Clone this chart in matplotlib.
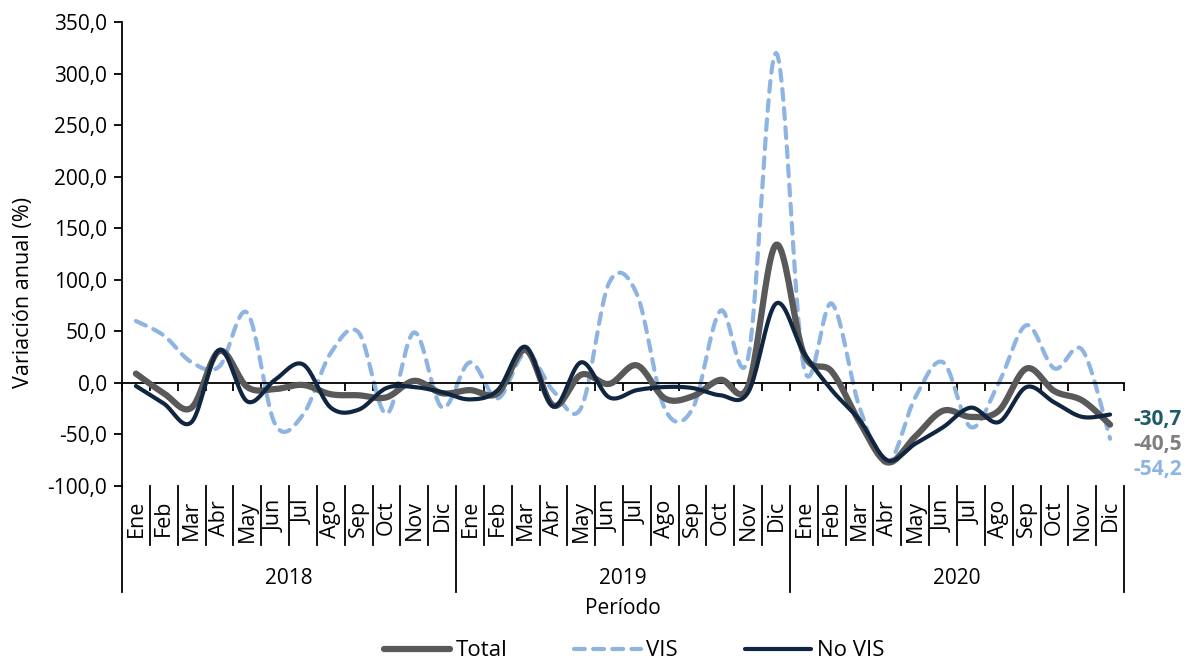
import matplotlib
matplotlib.use("Agg")
import matplotlib.pyplot as plt
import numpy as np

plt.rcParams['font.family'] = ['Open Sans', 'DejaVu Sans']

# Data
years = ["2018", "2019", "2020"]
months = ["Ene", "Feb", "Mar", "Abr", "May", "Jun", "Jul", "Ago", "Sep", "Oct", "Nov", "Dic"]

total = [9, -10, -24, 31, -4, -6, -2, -11, -12, -14, 2, -10,
         -7, -10, 32, -22, 8, -1, 17, -15, -13, 3, -3, 134,
         28, 11, -38, -77, -52, -27, -33, -27, 14, -8, -17, -40.5]
vis = [60, 46, 20, 16, 68, -40, -31, 29, 49, -30, 49, -24,
       20, -15, 29, -8, -24, 97, 86, -25, -25, 70, 25, 320,
       15, 77, -24, -78, -14, 20, -43, 0, 56, 14, 32, -54.2]
no_vis = [-3, -20, -38, 32, -18, 3, 18, -24, -26, -5, -4, -9,
          -16, -7, 35, -23, 20, -14, -7, -4, -5, -12, -9, 77,
          29, -7, -36, -75, -59, -43, -24, -38, -4, -19, -33, -30.7]

colors = {"Total": "#595959", "VIS": "#8db4e2", "No VIS": "#10253f"}
end_colors = {"Total": "#7f7f7f", "VIS": "#8db4e2", "No VIS": "#1f5a6a"}


def smooth(y, n=20):
    # catmull-rom style curve through the points, like excel's smoothed line
    y = np.asarray(y, dtype=float)
    x = np.arange(len(y), dtype=float)
    xs, ys = [], []
    for i in range(len(y) - 1):
        p0 = (x[i - 1], y[i - 1]) if i > 0 else (x[i], y[i])
        p1 = (x[i], y[i])
        p2 = (x[i + 1], y[i + 1])
        p3 = (x[i + 2], y[i + 2]) if i + 2 < len(y) else (x[i + 1], y[i + 1])
        c1 = (p1[0] + (p2[0] - p0[0]) / 6, p1[1] + (p2[1] - p0[1]) / 6)
        c2 = (p2[0] - (p3[0] - p1[0]) / 6, p2[1] - (p3[1] - p1[1]) / 6)
        t = np.linspace(0, 1, n, endpoint=False)
        b0 = (1 - t) ** 3
        b1 = 3 * (1 - t) ** 2 * t
        b2 = 3 * (1 - t) * t ** 2
        b3 = t ** 3
        xs.append(b0 * p1[0] + b1 * c1[0] + b2 * c2[0] + b3 * p2[0])
        ys.append(b0 * p1[1] + b1 * c1[1] + b2 * c2[1] + b3 * p2[1])
    xs.append([x[-1]])
    ys.append([y[-1]])
    return np.concatenate(xs), np.concatenate(ys)


W, H = 1190, 662
fig = plt.figure(figsize=(W / 100, H / 100), dpi=100)
left, right, top, bottom = 122, 1124, 22, 486
ax = fig.add_axes([left / W, 1 - bottom / H, (right - left) / W, (bottom - top) / H])
ax_h = bottom - top

sx, sy = smooth(total)
ax.plot(sx, sy, color=colors["Total"], lw=4.5, solid_capstyle='round', label="Total", zorder=3)
sx, sy = smooth(vis)
ax.plot(sx, sy, color=colors["VIS"], lw=3.0, dashes=(2.6, 2.0), dash_capstyle='round', label="VIS", zorder=2)
sx, sy = smooth(no_vis)
ax.plot(sx, sy, color=colors["No VIS"], lw=3.0, solid_capstyle='round', label="No VIS", zorder=4)

n = len(months) * len(years)
ax.set_xlim(-0.5, n - 0.5)
ax.set_ylim(-100, 350)
ax.set_yticks(np.arange(-100, 351, 50))
ax.set_yticklabels([f"{v:.1f}".replace(".", ",") for v in np.arange(-100, 351, 50)], fontsize=15)
ax.tick_params(axis='y', direction='out', length=6, width=1.3, pad=5)

for s in ["top", "right"]:
    ax.spines[s].set_visible(False)
ax.spines["left"].set_linewidth(1.3)
ax.spines["bottom"].set_position(("data", 0))
ax.spines["bottom"].set_linewidth(1.3)
ax.set_xticks(np.arange(-0.5, n, 1))
ax.set_xticklabels([])
ax.tick_params(axis='x', direction='out', length=6, width=1.3)

# multi-level category labels under the plot
tr = ax.get_xaxis_transform()
def px(p):
    return -(p - bottom) / ax_h

for i in range(n):
    ax.text(i, px(500), months[i % 12], rotation=90, ha='center', va='top',
            fontsize=15.5, transform=tr)
for b in range(1, n):
    if b % 12 != 0:
        ax.plot([b - 0.5, b - 0.5], [px(486), px(545)], color='black', lw=1.3,
                transform=tr, clip_on=False)
for b in range(0, n + 1, 12):
    ax.plot([b - 0.5, b - 0.5], [px(486) if b else 0, px(592)], color='black', lw=1.3,
            transform=tr, clip_on=False)
for j, yr in enumerate(years):
    ax.text(j * 12 + 5.5, px(579), yr, ha='center', va='center', fontsize=15, transform=tr)

fig.text((left + right) / 2 / W, 1 - 609 / H, "Período", ha='center', va='center', fontsize=15)
fig.text(24 / W, 1 - 292 / H, "Variación anual (%)", rotation=90, ha='center', va='center', fontsize=15.5)

# end-of-series labels
ax.text(n - 0.5 + 0.35, no_vis[-1] - 5, f"{no_vis[-1]:.1f}".replace(".", ","), color=end_colors["No VIS"],
        fontsize=15, fontweight='bold', va='center', ha='left', clip_on=False)
ax.text(n - 0.5 + 0.35, total[-1] - 19, f"{total[-1]:.1f}".replace(".", ","), color=end_colors["Total"],
        fontsize=15, fontweight='bold', va='center', ha='left', clip_on=False)
ax.text(n - 0.5 + 0.35, vis[-1] - 30, f"{vis[-1]:.1f}".replace(".", ","), color=end_colors["VIS"],
        fontsize=15, fontweight='bold', va='center', ha='left', clip_on=False)

fig.legend(loc='center', bbox_to_anchor=(634 / W, 1 - 651 / H), ncol=3, frameon=False,
           fontsize=16, handlelength=3.0, columnspacing=3.0, handletextpad=0.25)

fig.savefig("out.png", dpi=100)
